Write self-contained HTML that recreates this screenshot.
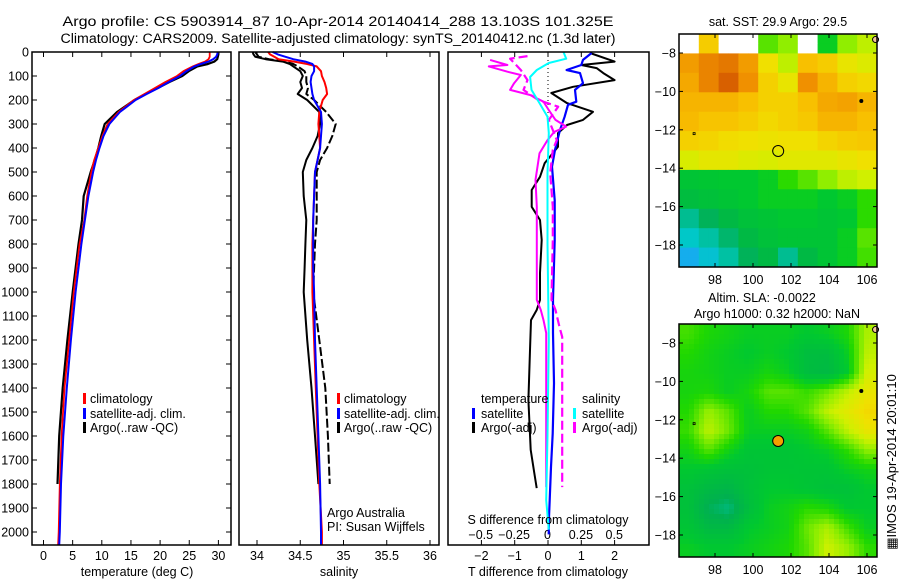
<!DOCTYPE html>
<html><head><meta charset="utf-8"><style>
html,body{margin:0;padding:0;background:#fff}
svg{display:block;font-family:"Liberation Sans",sans-serif}
</style></head><body>
<svg id="fig" width="900" height="580" viewBox="0 0 900 580" xmlns="http://www.w3.org/2000/svg">
<rect width="900" height="580" fill="#fff"/>
<text x="338" y="26" font-size="13.5" text-anchor="middle" textLength="551" lengthAdjust="spacingAndGlyphs">Argo profile: CS 5903914_87 10-Apr-2014 20140414_288 13.103S 101.325E</text>
<text x="338" y="43" font-size="13.5" text-anchor="middle" textLength="555" lengthAdjust="spacingAndGlyphs">Climatology: CARS2009. Satellite-adjusted climatology: synTS_20140412.nc (1.3d later)</text>
<g id="g1"></g>
<g id="g2"></g>
<g id="g3"></g>
<g id="g4"></g>
<g id="g5"></g>
<text transform="translate(896,462) rotate(-90)" font-size="13" text-anchor="middle">&#9638;IMOS 19-Apr-2014 20:01:10</text>
</svg>
<script>
// ---- profile data ----
const depths = [0,10,20,30,40,50,60,80,100,125,150,175,200,250,300,350,400,450,500,600,700,800,900,1000,1200,1400,1600,1800,2000,2055];
const climT = [28.5,28.5,28.5,28.3,27.7,26.6,25.6,24.0,22.9,20.9,19.1,17.3,15.5,12.9,11.0,10.1,9.4,8.7,8.2,7.5,7.0,6.2,5.7,5.2,4.4,3.6,3.1,2.8,2.6,2.5];
const satT = [29.9,29.8,29.6,29.1,28.3,27.0,25.9,24.5,23.4,21.5,19.7,17.7,15.8,13.1,11.3,10.3,9.6,9.0,8.5,7.7,7.1,6.5,6.0,5.5,4.7,4.0,3.4,3.0,2.8,2.7];
const argoT = [30.0,30.0,29.9,29.8,29.3,28.2,26.4,24.9,23.8,21.6,19.6,17.5,15.6,12.6,10.5,9.9,9.4,8.8,8.1,6.9,6.6,6.0,5.5,5.0,4.1,3.3,2.7,2.4];
const climS = [34.13,34.15,34.2,34.25,34.43,34.58,34.69,34.74,34.75,34.78,34.80,34.81,34.76,34.72,34.71,34.72,34.73,34.70,34.67,34.66,34.65,34.64,34.64,34.64,34.66,34.68,34.70,34.72,34.75,34.75];
const satS = [34.18,34.24,34.33,34.42,34.56,34.64,34.66,34.66,34.63,34.62,34.63,34.64,34.66,34.74,34.75,34.74,34.73,34.70,34.67,34.66,34.65,34.65,34.65,34.66,34.67,34.69,34.71,34.73,34.74,34.74];
const argoS = [33.95,33.96,33.98,34.1,34.3,34.38,34.42,34.50,34.53,34.50,34.52,34.47,34.58,34.72,34.73,34.70,34.64,34.57,34.53,34.54,34.57,34.56,34.55,34.54,34.58,34.63,34.67,34.71];
const rawS = [33.98,34.0,34.02,34.14,34.33,34.42,34.47,34.55,34.57,34.57,34.59,34.57,34.66,34.8,34.91,34.87,34.81,34.73,34.69,34.69,34.69,34.67,34.66,34.65,34.72,34.79,34.82,34.84];
// ---- difference panel data ----
const dDepBlue = [4,33,54,75,88,130,158,207,220,270,325,408,478,617,783,1033,1171,1380,1590,1729,1867,1938,2010];
const dBlue = [1.31,1.05,1.0,0.56,0.96,1.05,0.81,0.85,0.6,0.5,0.36,0.21,0.12,0.2,0.2,0.15,0.15,0.18,0.14,0.09,0.05,0.03,0.02];
const dDepBlack = [4,40,54,67,88,117,145,171,213,249,283,304,338,395,463,520,575,645,700,783,921,1033,1075,1117,1242,1450,1658,1754,1817];
const dBlack = [1.26,2.0,1.0,1.46,1.66,2.0,0.75,0.1,0.57,1.35,1.05,0.57,0.3,0.3,-0.1,-0.24,-0.49,-0.49,-0.24,-0.19,-0.24,-0.24,-0.34,-0.51,-0.54,-0.59,-0.52,-0.41,-0.34];
const dDepCyan = [0,28,46,75,104,158,213,270,338,505,800,1200,1600,1867,1990];
const dCyan = [0.12,0.14,0.01,-0.08,-0.13,-0.12,-0.06,0,0.01,0,0,0.01,0,-0.01,0.01];
const dDepMag = [33,54,60,82,96,130,158,179,207,242,283,311,333,367,422,533,645,783,1033,1075,1117,1171,1500,1813];
const dMag = [-0.43,-0.3,-0.44,-0.3,-0.2,-0.25,-0.28,-0.13,-0.03,0.01,0.06,0.14,0.05,0,-0.06,-0.09,-0.08,-0.08,-0.08,-0.05,-0.03,-0.01,-0.01,-0.01];
const dDepMagRaw = [17,28,75,117,158,200,228,283,367,408,505,645,783,1033,1075,1146,1187,1325,1813];
const dMagRaw = [-0.15,-0.28,-0.2,-0.15,-0.18,-0.07,0.08,0.01,0.07,0.04,0.02,0.04,0.04,0.03,0.06,0.09,0.11,0.11,0.11];
// ---- tick labels ----
const depthTicks = [0,100,200,300,400,500,600,700,800,900,1000,1100,1200,1300,1400,1500,1600,1700,1800,1900,2000];
const tempTicks = [0,5,10,15,20,25,30];
const salTicks = [34,34.5,35,35.5,36];
const dTTicks = [-2,-1,0,1,2];
const dSTicks = [-0.5,-0.25,0,0.25,0.5];
const latTicks = [-8,-10,-12,-14,-16,-18];
const lonTicks = [98,100,102,104,106];
// ---- map grids (rows lat -7..-19 by 1 deg, cols lon 96.1..106.5) ----
const sstGrid = [
[null,0.75,null,null,0.5,0.55,null,0.4,0.55,0.6],
[0.84,0.88,0.9,0.84,0.7,0.6,0.78,0.75,0.68,0.65],
[0.82,0.88,0.94,0.86,0.74,0.68,0.86,0.8,0.74,0.72],
[0.8,0.8,0.8,0.78,0.74,0.74,0.78,0.82,0.83,0.8],
[0.79,0.77,0.77,0.75,0.72,0.74,0.76,0.8,0.8,0.78],
[0.74,0.73,0.71,0.7,0.69,0.7,0.7,0.73,0.75,0.76],
[0.64,0.67,0.67,0.65,0.64,0.66,0.66,0.66,0.68,0.7],
[0.36,0.37,0.38,0.38,0.4,0.46,0.5,0.55,0.6,0.62],
[0.32,0.34,0.36,0.38,0.4,0.4,0.4,0.38,0.4,0.46],
[0.18,0.24,0.3,0.34,0.36,0.38,0.38,0.36,0.38,0.46],
[0.12,0.16,0.22,0.3,0.34,0.36,0.36,0.36,0.4,0.5],
[0.04,0.1,0.16,0.24,0.3,0.18,0.3,0.36,0.4,0.48]];
const slaGrid = [
[0.48,0.44,0.42,0.4,0.4,0.4,0.38,0.4,0.44,0.58],
[0.45,0.42,0.4,0.38,0.4,0.38,0.32,0.32,0.4,0.6],
[0.43,0.42,0.4,0.4,0.43,0.4,0.32,0.3,0.38,0.63],
[0.43,0.44,0.4,0.43,0.5,0.5,0.47,0.52,0.6,0.68],
[0.45,0.56,0.5,0.4,0.45,0.45,0.5,0.6,0.66,0.72],
[0.47,0.6,0.52,0.4,0.4,0.4,0.42,0.5,0.6,0.68],
[0.42,0.5,0.42,0.36,0.36,0.36,0.38,0.4,0.46,0.55],
[0.38,0.36,0.34,0.34,0.36,0.36,0.36,0.36,0.4,0.42],
[0.34,0.3,0.28,0.34,0.38,0.38,0.36,0.34,0.34,0.38],
[0.34,0.24,0.2,0.32,0.4,0.42,0.46,0.44,0.38,0.38],
[0.36,0.3,0.3,0.38,0.4,0.42,0.52,0.58,0.48,0.4],
[0.4,0.38,0.38,0.4,0.42,0.44,0.5,0.62,0.56,0.46]];
const argoLon = [101.325];
const argoLat = [-13.103];

const NS='http://www.w3.org/2000/svg';
function mk(parent,tag,attrs){const e=document.createElementNS(NS,tag);for(const k in attrs)e.setAttribute(k,attrs[k]);parent.appendChild(e);return e;}
const yD = d => 52 + 0.24*d;
const xT = t => 43.5 + 5.83*t;
const xS = s => 257 + 86.5*(s-34);
const xdT = v => 548 + 33.3*v;
const xdS = v => 547.5 + 133.5*v;
function pathOf(vals,deps,fx){let s='';for(let i=0;i<vals.length;i++){if(vals[i]==null)continue;s+=(s?'L':'M')+fx(vals[i]).toFixed(1)+','+yD(deps[i]).toFixed(1);}return s;}
function line(g,vals,deps,fx,color,w,name,dash){
  const p=mk(g,'path',{d:pathOf(vals,deps,fx),fill:'none',stroke:color,'stroke-width':w,'stroke-linejoin':'round'});
  if(dash)p.setAttribute('stroke-dasharray',dash);
  
  
}
function txt(g,x,y,s,size,anchor,name){const t=mk(g,'text',{x:x,y:y,'font-size':size,'text-anchor':anchor});t.textContent=s;
  
  
  return t;}
function box(g,x0,x1,y0,y1){const r=mk(g,'rect',{x:x0,y:y0,width:x1-x0,height:y1-y0,fill:'none',stroke:'#000','stroke-width':1.5});
  
  }
function tk(g,x1,y1,x2,y2){const l=mk(g,'line',{x1:x1,y1:y1,x2:x2,y2:y2,stroke:'#000','stroke-width':1});
  
  }
function legBar(g,x,y,color){const r=mk(g,'rect',{x:x,y:y,width:3,height:11,fill:color});
  
  }
function fmt(v){return (v<0?'\u2212':'')+String(Math.abs(v)).replace(/^0\./,'0.');}

// ---- Panel 1 ----
const g1=document.getElementById('g1');
depthTicks.forEach(d=>{txt(g1,29,yD(d)+4.5,String(d),12.5,'end','depth-tick-label');tk(g1,32,yD(d),37,yD(d));tk(g1,226,yD(d),231,yD(d));});
tempTicks.forEach(t=>{txt(g1,xT(t),560,String(t),12.5,'middle','temperature-tick-label');tk(g1,xT(t),52,xT(t),57);tk(g1,xT(t),540,xT(t),545);});
line(g1,argoT,depths,xT,'#000',2.2,'argo-temperature-line');
line(g1,climT,depths,xT,'#f00',1.8,'climatology-temperature-line');
line(g1,satT,depths,xT,'#00f',2,'satellite-temperature-line');
box(g1,32,231,52,545);
txt(g1,137,576,'temperature (deg C)',12.5,'middle','x-axis-title');
legBar(g1,83,393,'#f00');txt(g1,90,403,'climatology',12.5,'start','legend-entry-climatology');
legBar(g1,83,408,'#00f');txt(g1,90,418,'satellite-adj. clim.',12.5,'start','legend-entry-satellite');
legBar(g1,83,422,'#000');txt(g1,90,432,'Argo(..raw -QC)',12.5,'start','legend-entry-argo');

// ---- Panel 2 ----
const g2=document.getElementById('g2');
salTicks.forEach(s=>{txt(g2,xS(s),560,String(s),12.5,'middle','salinity-tick-label');tk(g2,xS(s),52,xS(s),57);tk(g2,xS(s),540,xS(s),545);});
line(g2,rawS,depths,xS,'#000',2,'argo-raw-salinity-line','9,3');
line(g2,argoS,depths,xS,'#000',2,'argo-salinity-line');
line(g2,climS,depths,xS,'#f00',2,'climatology-salinity-line');
line(g2,satS,depths,xS,'#00f',2,'satellite-salinity-line');
box(g2,239,439,52,545);
txt(g2,339,576,'salinity',12.5,'middle','x-axis-title');
legBar(g2,337,393,'#f00');txt(g2,344,403,'climatology',12.5,'start','legend-entry-climatology');
legBar(g2,337,408,'#00f');txt(g2,344,418,'satellite-adj. clim.',12.5,'start','legend-entry-satellite');
legBar(g2,337,422,'#000');txt(g2,344,432,'Argo(..raw -QC)',12.5,'start','legend-entry-argo');
txt(g2,327,517,'Argo Australia',12.5,'start','data-provider');
txt(g2,327,531,'PI: Susan Wijffels',12.5,'start','principal-investigator');

// ---- Panel 3 ----
const g3=document.getElementById('g3');
dTTicks.forEach(v=>{txt(g3,xdT(v),560,fmt(v),12.5,'middle','t-diff-tick-label');tk(g3,xdT(v),52,xdT(v),57);tk(g3,xdT(v),540,xdT(v),545);});
dSTicks.forEach(v=>{txt(g3,xdS(v),539,fmt(v),12.5,'middle','s-diff-tick-label');});
const zl=mk(g3,'line',{x1:548,y1:52,x2:548,y2:130,stroke:'#000','stroke-width':1,'stroke-dasharray':'1,3'});


line(g3,dBlack,dDepBlack,xdT,'#000',2,'argo-t-diff-line');
line(g3,dBlue,dDepBlue,xdT,'#00f',2.2,'satellite-t-diff-line');
line(g3,dMagRaw,dDepMagRaw,xdS,'#f0f',2.2,'argo-raw-s-diff-line','9,4');
line(g3,dMag,dDepMag,xdS,'#f0f',2,'argo-s-diff-line');
line(g3,dCyan,dDepCyan,xdS,'#0ff',2,'satellite-s-diff-line');
box(g3,448,649,52,545);
txt(g3,548,524,'S difference from climatology',12.5,'middle','s-axis-title');
txt(g3,548,576,'T difference from climatology',12.5,'middle','t-axis-title');
txt(g3,481,403,'temperature',12.5,'start','legend-title-temperature');
legBar(g3,472,408,'#00f');txt(g3,481,418,'satellite',12.5,'start','legend-entry-t-satellite');
legBar(g3,472,422,'#000');txt(g3,481,432,'Argo(-adj)',12.5,'start','legend-entry-t-argo');
txt(g3,582,403,'salinity',12.5,'start','legend-title-salinity');
legBar(g3,573,408,'#0ff');txt(g3,582,418,'satellite',12.5,'start','legend-entry-s-satellite');
legBar(g3,573,422,'#f0f');txt(g3,582,432,'Argo(-adj)',12.5,'start','legend-entry-s-argo');

// ---- Maps ----
const stops=[[0,[32,160,255]],[0.12,[0,200,200]],[0.25,[0,176,80]],[0.38,[0,200,48]],[0.45,[32,216,0]],[0.55,[144,238,0]],[0.62,[208,240,0]],[0.7,[240,224,0]],[0.78,[248,192,0]],[0.86,[240,144,0]],[0.94,[216,96,0]],[1,[176,64,0]]];
function cmap(v){v=Math.max(0,Math.min(1,v));for(let i=1;i<stops.length;i++){if(v<=stops[i][0]){const a=stops[i-1],b=stops[i],f=(v-a[0])/(b[0]-a[0]);const c=a[1].map((x,k)=>Math.round(x+(b[1][k]-x)*f));return 'rgb('+c.join(',')+')';}}return 'rgb(176,64,0)';}
function drawMap(gid,grid,oy,smooth,filled,t1,t2){
  const g=document.getElementById(gid);
  const X0=679,X1=877,Y0=34+oy,Y1=267+oy;
  const lonX=lon=>715+(lon-98)*19;
  const latY=lat=>53+oy+(-8-lat)*19.2;
  const lon0=96.1,lon1=106.5,lat0=-7,lat1=-19.15;
  const nr=grid.length,nc=grid[0].length;
  const cw=smooth?5:198/nc*0.5, chh=smooth?5:233/nr*0.5;
  for(let y=Y0;y<Y1;y+=chh){for(let x=X0;x<X1;x+=cw){
    const lon=lon0+(x+cw/2-X0)/(X1-X0)*(lon1-lon0), lat=lat0+(y+chh/2-Y0)/(Y1-Y0)*(lat1-lat0);
    const fc=(lon-lon0)/(lon1-lon0)*nc-0.5, fr=(lat0-lat)*nr/(lat0-lat1)-0.5;
    let v;
    if(smooth){const c0=Math.max(0,Math.min(nc-1,Math.floor(fc))),r0=Math.max(0,Math.min(nr-1,Math.floor(fr)));const c1=Math.min(nc-1,c0+1),r1=Math.min(nr-1,r0+1);const tx=Math.max(0,Math.min(1,fc-c0)),ty=Math.max(0,Math.min(1,fr-r0));
      v=(grid[r0][c0]*(1-tx)+grid[r0][c1]*tx)*(1-ty)+(grid[r1][c0]*(1-tx)+grid[r1][c1]*tx)*ty;}
    else{const c=Math.max(0,Math.min(nc-1,Math.round(fc))),r=Math.max(0,Math.min(nr-1,Math.round(fr)));v=grid[r][c];}
    const cell=mk(g,'rect',{x:x.toFixed(1),y:y.toFixed(1),width:(Math.min(cw,X1-x)+0.4).toFixed(1),height:(Math.min(chh,Y1-y)+0.4).toFixed(1),fill:v==null?'#fff':cmap(v)});
    
    
  }}
  latTicks.forEach(l=>{txt(g,676,latY(l)+4.5,fmt(l),12.5,'end','latitude-tick-label');tk(g,X0,latY(l),X0+4,latY(l));tk(g,X1-4,latY(l),X1,latY(l));});
  lonTicks.forEach(l=>{txt(g,lonX(l),284+oy,String(l),12.5,'middle','longitude-tick-label');tk(g,lonX(l),Y0,lonX(l),Y0+4);tk(g,lonX(l),Y1-4,lonX(l),Y1);});
  const cr=mk(g,'circle',{cx:106.45>0?lonX(106.45):0,cy:latY(-7.3),r:3,fill:'#f8c8a0',stroke:'#000','stroke-width':1});
  
  
  const d1=mk(g,'circle',{cx:lonX(105.7),cy:latY(-10.5),r:2,fill:'#000'});
  
  
  const d2=mk(g,'rect',{x:lonX(96.9)-1,y:latY(-12.2)-1,width:2,height:2,fill:'none',stroke:'#000','stroke-width':0.8});
  
  
  argoLon.forEach((lo,i)=>{const c=mk(g,'circle',{cx:lonX(lo),cy:latY(argoLat[i]),r:5.5,fill:filled?'#f5a000':'none',stroke:'#000','stroke-width':1});
    
    });
  box(g,X0,X1,Y0,Y1);
  if(t2){txt(g,762,302,t1,12.5,'middle','map-title');txt(g,777,318,t2,12.5,'middle','map-subtitle');}
  else txt(g,778,26,t1,12.5,'middle','map-title');
}
drawMap('g4',sstGrid,0,false,false,'sat. SST: 29.9 Argo: 29.5');
drawMap('g5',slaGrid,290,true,true,'Altim. SLA: -0.0022','Argo h1000: 0.32 h2000: NaN');
</script>
</body></html>
